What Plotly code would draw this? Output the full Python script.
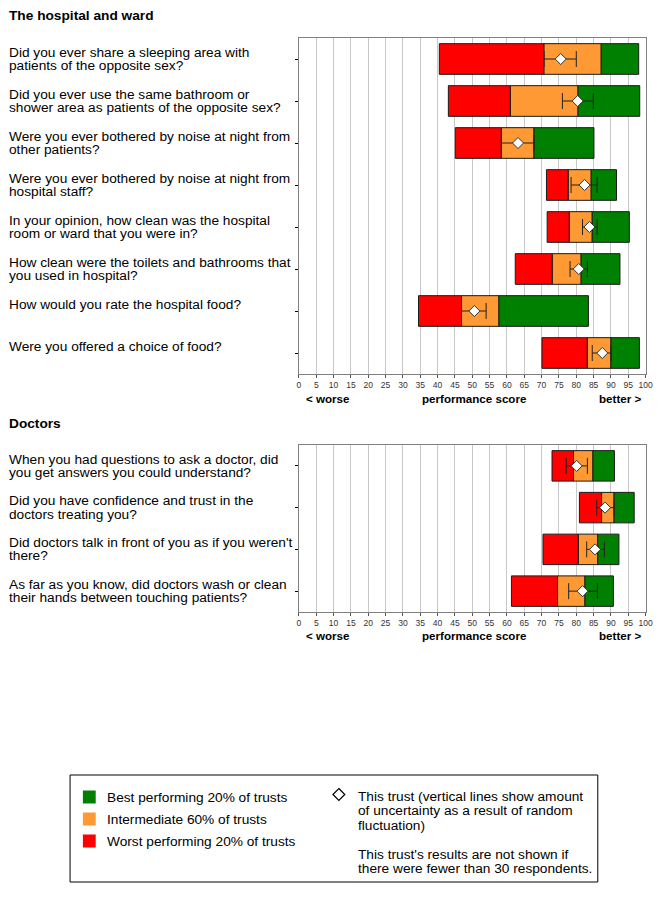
import plotly.graph_objects as go

W, H = 662, 897

# ---------------- data ----------------
ward_questions = [
    "Did you ever share a sleeping area with<br>patients of the opposite sex?",
    "Did you ever use the same bathroom or<br>shower area as patients of the opposite sex?",
    "Were you ever bothered by noise at night from<br>other patients?",
    "Were you ever bothered by noise at night from<br>hospital staff?",
    "In your opinion, how clean was the hospital<br>room or ward that you were in?",
    "How clean were the toilets and bathrooms that<br>you used in hospital?",
    "How would you rate the hospital food?",
    "Were you offered a choice of food?",
]
ward_low = [40.5, 43.1, 45.1, 71.4, 71.6, 62.4, 34.5, 70.1]       # start of red band
ward_mid_lo = [70.7, 61.0, 58.4, 77.7, 78.0, 73.1, 46.9, 83.2]    # red / orange boundary
ward_mid_hi = [87.2, 80.5, 67.8, 84.3, 84.6, 81.4, 57.7, 90.0]    # orange / green boundary
ward_high = [98.0, 98.3, 85.1, 91.6, 95.3, 92.6, 83.5, 98.2]      # end of green band
ward_score = [75.5, 80.4, 63.2, 82.4, 83.8, 80.7, 50.6, 87.5]
ward_ci_lo = [70.7, 76.0, 58.4, 78.5, 81.8, 78.2, 46.9, 84.6]
ward_ci_hi = [80.0, 84.9, 67.8, 86.0, 86.0, 83.2, 54.0, 90.0]

doc_questions = [
    "When you had questions to ask a doctor, did<br>you get answers you could understand?",
    "Did you have confidence and trust in the<br>doctors treating you?",
    "Did doctors talk in front of you as if you weren't<br>there?",
    "As far as you know, did doctors wash or clean<br>their hands between touching patients?",
]
doc_low = [73.0, 80.9, 70.4, 61.3]
doc_mid_lo = [79.2, 87.3, 80.6, 74.6]
doc_mid_hi = [84.8, 90.9, 86.2, 82.5]
doc_high = [91.0, 96.7, 92.3, 90.7]
doc_score = [80.1, 88.3, 85.4, 81.8]
doc_ci_lo = [77.1, 85.9, 83.0, 77.8]
doc_ci_hi = [83.2, 90.9, 88.1, 86.1]

tick_values = list(range(0, 101, 5))
tick_labels = [str(v) for v in tick_values]

section_titles = ["The hospital and ward", "Doctors"]
axis_words = ["< worse", "performance score", "better >"]
legend_labels = ["Best performing 20% of trusts", "Intermediate 60% of trusts",
                 "Worst performing 20% of trusts"]
legend_note = ["This trust (vertical lines show amount", "of uncertainty as a result of random",
               "fluctuation)", "", "This trust's results are not shown if",
               "there were fewer than 30 respondents."]

RED, ORANGE, GREEN = "#ff0000", "#ff9933", "#008000"
OUTLINE = "#1a1a1a"
FONT = "Liberation Sans, Arial, sans-serif"
NARROW = "Liberation Sans Narrow, Arial Narrow, Liberation Sans, Arial, sans-serif"
FS = 13.7


def px(x):
    return x / W


def py(y):
    return 1 - y / H


fig = go.Figure()


def add_panel(low, mlo, mhi, high, score, cilo, cihi, xa, ya):
    n = len(low)
    ys = list(range(n))
    segs = [(low, [b - a for a, b in zip(low, mlo)], RED),
            (mlo, [b - a for a, b in zip(mlo, mhi)], ORANGE),
            (mhi, [b - a for a, b in zip(mhi, high)], GREEN)]
    for base, length, col in segs:
        fig.add_trace(go.Bar(
            y=ys, x=length, base=base, orientation="h", width=0.73,
            marker=dict(color=col, line=dict(color=OUTLINE, width=1)),
            xaxis=xa, yaxis=ya, showlegend=False, hoverinfo="skip"))
    fig.add_trace(go.Scatter(
        y=ys, x=score, mode="markers", xaxis=xa, yaxis=ya,
        marker=dict(symbol="diamond", size=8.5, color="white",
                    line=dict(color="#333333", width=1)),
        error_x=dict(type="data", symmetric=False,
                     array=[h - s for s, h in zip(score, cihi)],
                     arrayminus=[s - l for s, l in zip(score, cilo)],
                     color="#222222", thickness=1, width=8),
        showlegend=False, hoverinfo="skip"))


add_panel(ward_low, ward_mid_lo, ward_mid_hi, ward_high, ward_score, ward_ci_lo, ward_ci_hi, "x", "y")
add_panel(doc_low, doc_mid_lo, doc_mid_hi, doc_high, doc_score, doc_ci_lo, doc_ci_hi, "x2", "y2")

xdom = [px(301), px(652.5)]
xcommon = dict(range=[0, 100], domain=xdom, tickmode="array", tickvals=tick_values,
               ticktext=tick_labels, showgrid=True, gridcolor="#c8c8c8", gridwidth=1,
               zeroline=False, showline=True, linecolor="#808080", linewidth=1, mirror=True,
               ticks="outside", ticklen=3, tickcolor="#555555",
               tickfont=dict(family=NARROW, size=8.5, color="#333333"), fixedrange=True)
ycommon = dict(showgrid=False, zeroline=False, showline=True, linecolor="#808080",
               linewidth=1, mirror=True, ticks="outside", ticklen=3, tickcolor="#000000",
               showticklabels=False, fixedrange=True)

fig.update_layout(
    width=W, height=H, autosize=False,
    margin=dict(l=0, r=0, t=0, b=0),
    paper_bgcolor="white", plot_bgcolor="white",
    barmode="overlay",
    xaxis=dict(**xcommon, anchor="y"),
    yaxis=dict(**ycommon, domain=[py(374), py(38)], range=[len(ward_low) - 0.5, -0.5],
               tickvals=list(range(len(ward_low))), anchor="x"),
    xaxis2=dict(**xcommon, anchor="y2"),
    yaxis2=dict(**ycommon, domain=[py(612), py(445)], range=[len(doc_low) - 0.5, -0.5],
                tickvals=list(range(len(doc_low))), anchor="x2"),
)

ann = []
shapes = []
LX = 5  # annotation box left so glyphs start near x=8

# question labels
for qs, yref in ((ward_questions, "y"), (doc_questions, "y2")):
    for i, q in enumerate(qs):
        for k, line in enumerate(q.split("<br>")):
            ann.append(dict(text=line, xref="paper", x=px(LX), xanchor="left",
                            yref=yref, y=i, yanchor="middle", yshift=6.7 - 13.3 * k,
                            showarrow=False, font=dict(family=FONT, size=FS, color="#000000")))

# section titles
for t, yy in zip(section_titles, [16, 423]):
    ann.append(dict(text="<b>%s</b>" % t, xref="paper", yref="paper", x=px(LX), y=py(yy),
                    xanchor="left", yanchor="middle", showarrow=False,
                    font=dict(family=FONT, size=FS, color="#000000")))

# axis words below each panel
for yy in (398, 635):
    ann.append(dict(text="<b>%s</b>" % axis_words[0], xref="paper", yref="paper", x=px(306),
                    y=py(yy), xanchor="left", yanchor="middle", showarrow=False,
                    font=dict(family=FONT, size=11.6, color="#000000")))
    ann.append(dict(text="<b>%s</b>" % axis_words[1], xref="paper", yref="paper", x=px(479),
                    y=py(yy), xanchor="center", yanchor="middle", showarrow=False,
                    font=dict(family=FONT, size=11.6, color="#000000")))
    ann.append(dict(text="<b>%s</b>" % axis_words[2], xref="paper", yref="paper", x=px(650),
                    y=py(yy), xanchor="right", yanchor="middle", showarrow=False,
                    font=dict(family=FONT, size=11.6, color="#000000")))

# legend box
shapes.append(dict(type="rect", xref="paper", yref="paper", x0=px(69), x1=px(604),
                   y0=py(882), y1=py(775), line=dict(color="#000000", width=1),
                   fillcolor="rgba(0,0,0,0)"))
for lab, col, yy in zip(legend_labels, [GREEN, ORANGE, RED], [797, 819, 841]):
    shapes.append(dict(type="rect", xref="paper", yref="paper", x0=px(82), x1=px(95),
                       y0=py(yy + 6.5), y1=py(yy - 6.5), line=dict(width=0), fillcolor=col))
    ann.append(dict(text=lab, xref="paper", yref="paper", x=px(104), y=py(yy),
                    xanchor="left", yanchor="middle", showarrow=False,
                    font=dict(family=FONT, size=FS, color="#000000")))
# legend diamond
cx, cy, r = 341.5, 794.5, 6
shapes.append(dict(type="path", xref="paper", yref="paper",
                   path="M %f %f L %f %f L %f %f L %f %f Z" % (
                       px(cx), py(cy - r), px(cx + r), py(cy), px(cx), py(cy + r), px(cx - r), py(cy)),
                   line=dict(color="#000000", width=1.2), fillcolor="white"))
for line, yy in zip(legend_note, [796, 810.5, 825, 839.5, 854.5, 868.5]):
    if line:
        ann.append(dict(text=line, xref="paper", yref="paper", x=px(359), y=py(yy),
                        xanchor="left", yanchor="middle", showarrow=False,
                        font=dict(family=FONT, size=FS, color="#000000")))

fig.update_layout(annotations=ann, shapes=shapes)
fig.write_html(
    "out.html",
    config={"displayModeBar": False, "responsive": False},
    post_script="document.documentElement.style.overflow='hidden';"
                "document.body.style.overflow='hidden';"
                "document.body.style.margin='0px';",
)
